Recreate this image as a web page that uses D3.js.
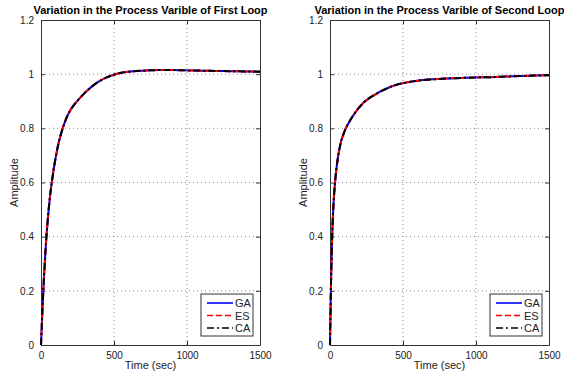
<!DOCTYPE html>
<html>
<head>
<meta charset="utf-8">
<script src="https://cdn.jsdelivr.net/npm/d3@7"></script>
<style>
  body { margin: 0; background: #fff; }
  svg { display: block; font-family: "Liberation Sans", Arial, sans-serif; }
</style>
</head>
<body>
<svg id="chart" width="564" height="376"></svg>
<script>
// Closed-loop step responses of the two loops, for the three tuning methods
const timeLoop1 = [0, 10, 20, 30, 40, 50, 60, 75, 90, 105, 120, 140, 160, 180, 200, 225, 250, 275, 300, 350, 400, 450, 500, 550, 600, 700, 800, 900, 1000, 1100, 1200, 1300, 1400, 1500];
const gaLoop1   = [0, 0.13, 0.245, 0.34, 0.42, 0.485, 0.54, 0.605, 0.66, 0.705, 0.745, 0.785, 0.818, 0.845, 0.866, 0.886, 0.902, 0.917, 0.931, 0.955, 0.974, 0.988, 0.998, 1.005, 1.009, 1.013, 1.015, 1.015, 1.014, 1.013, 1.012, 1.011, 1.01, 1.009];
const esLoop1   = [0, 0.135, 0.25, 0.343, 0.422, 0.487, 0.541, 0.606, 0.66, 0.705, 0.745, 0.785, 0.818, 0.845, 0.866, 0.886, 0.902, 0.917, 0.931, 0.955, 0.974, 0.988, 0.998, 1.005, 1.009, 1.013, 1.015, 1.015, 1.014, 1.013, 1.012, 1.011, 1.01, 1.009];
const caLoop1   = [0, 0.13, 0.245, 0.34, 0.42, 0.485, 0.54, 0.605, 0.66, 0.705, 0.745, 0.785, 0.818, 0.845, 0.866, 0.886, 0.902, 0.917, 0.931, 0.955, 0.974, 0.988, 0.998, 1.005, 1.009, 1.013, 1.015, 1.015, 1.014, 1.013, 1.012, 1.011, 1.01, 1.009];

const timeLoop2 = [0, 3, 6, 10, 14, 18, 24, 30, 36, 45, 55, 65, 75, 88, 100, 125, 150, 175, 200, 230, 260, 300, 350, 400, 450, 500, 600, 700, 800, 900, 1000, 1100, 1200, 1300, 1400, 1500];
const gaLoop2   = [0, 0.1, 0.2, 0.3, 0.38, 0.45, 0.52, 0.57, 0.61, 0.655, 0.695, 0.725, 0.75, 0.772, 0.79, 0.817, 0.84, 0.86, 0.877, 0.895, 0.908, 0.922, 0.937, 0.95, 0.96, 0.967, 0.976, 0.981, 0.984, 0.986, 0.988, 0.989, 0.991, 0.993, 0.995, 0.996];
const esLoop2   = [0, 0.11, 0.21, 0.31, 0.385, 0.452, 0.521, 0.57, 0.61, 0.655, 0.695, 0.725, 0.75, 0.772, 0.79, 0.817, 0.84, 0.86, 0.877, 0.895, 0.908, 0.922, 0.937, 0.95, 0.96, 0.967, 0.976, 0.981, 0.984, 0.986, 0.988, 0.989, 0.991, 0.993, 0.995, 0.996];
const caLoop2   = [0, 0.1, 0.2, 0.3, 0.38, 0.45, 0.52, 0.57, 0.61, 0.655, 0.695, 0.725, 0.75, 0.772, 0.79, 0.817, 0.84, 0.86, 0.877, 0.895, 0.908, 0.922, 0.937, 0.95, 0.96, 0.967, 0.976, 0.981, 0.984, 0.986, 0.988, 0.989, 0.991, 0.993, 0.995, 0.996];

const xTicks = [0, 500, 1000, 1500];
const yTicks = [0, 0.2, 0.4, 0.6, 0.8, 1, 1.2];
const methodNames = ["GA", "ES", "CA"];
const methodColors = ["#0000ff", "#ff0000", "#000000"];
const methodDashes = [null, "6,3", "7,3,2,3"];

const titles = [
  "Variation in the Process Varible of First Loop",
  "Variation in the Process Varible of Second Loop"
];

const svg = d3.select("#chart");

function drawPanel(left, times, series, title) {
  const top = 20, bottom = 345, right = left + 219;
  const x = d3.scaleLinear().domain([0, 1500]).range([left, right]);
  const y = d3.scaleLinear().domain([0, 1.2]).range([bottom, top]);
  const g = svg.append("g");

  // dotted grid
  g.selectAll(".gx").data(xTicks.slice(1, -1)).enter().append("line")
    .attr("x1", d => x(d)).attr("x2", d => x(d))
    .attr("y1", top).attr("y2", bottom)
    .attr("stroke", "#888").attr("stroke-width", 1).attr("stroke-dasharray", "1,3");
  g.selectAll(".gy").data(yTicks.slice(1, -1)).enter().append("line")
    .attr("x1", left).attr("x2", right)
    .attr("y1", d => y(d)).attr("y2", d => y(d))
    .attr("stroke", "#888").attr("stroke-width", 1).attr("stroke-dasharray", "1,3");

  // axes with inward ticks
  const xAxis = d3.axisBottom(x).tickValues(xTicks).tickSizeInner(-4).tickSizeOuter(0).tickPadding(7).tickFormat(d3.format("d"));
  const yAxis = d3.axisLeft(y).tickValues(yTicks).tickSizeInner(-4).tickSizeOuter(0).tickPadding(7).tickFormat(d => d3.format("")(d));
  const xTop = d3.axisTop(x).tickValues(xTicks).tickSizeInner(-4).tickSizeOuter(0).tickFormat("");
  const yRight = d3.axisRight(y).tickValues(yTicks).tickSizeInner(-4).tickSizeOuter(0).tickFormat("");

  [[xAxis, `translate(0,${bottom})`], [yAxis, `translate(${left},0)`],
   [xTop, `translate(0,${top})`], [yRight, `translate(${right},0)`]].forEach(([ax, tr]) => {
    const a = g.append("g").attr("transform", tr).call(ax);
    a.selectAll("path, line").attr("stroke", "#333").attr("stroke-width", 1);
    a.selectAll("text").attr("fill", "#222").style("font-size", "10px");
  });

  // response curves
  const line = d3.line().x((d, i) => x(times[i])).y(d => y(d)).curve(d3.curveMonotoneX);
  series.forEach((vals, k) => {
    g.append("path").datum(vals)
      .attr("d", line)
      .attr("fill", "none")
      .attr("stroke", methodColors[k])
      .attr("stroke-width", 2)
      .attr("stroke-dasharray", methodDashes[k]);
  });

  // labels
  g.append("text").attr("x", (left + right) / 2).attr("y", 14)
    .attr("text-anchor", "middle").style("font-size", "11px").style("font-weight", "bold")
    .attr("fill", "#000").text(title);
  g.append("text").attr("x", (left + right) / 2).attr("y", 369)
    .attr("text-anchor", "middle").style("font-size", "11px").attr("fill", "#222").text("Time (sec)");
  g.append("text").attr("transform", `translate(${left - 23},${(top + bottom) / 2}) rotate(-90)`)
    .attr("text-anchor", "middle").style("font-size", "11px").attr("fill", "#222").text("Amplitude");

  // legend
  const lx = right - 59, ly = 294;
  const lg = g.append("g");
  lg.append("rect").attr("x", lx).attr("y", ly).attr("width", 52).attr("height", 42)
    .attr("fill", "#fff").attr("stroke", "#333").attr("stroke-width", 1);
  methodNames.forEach((name, k) => {
    const yy = ly + 9 + k * 12.5;
    lg.append("line").attr("x1", lx + 6).attr("x2", lx + 32).attr("y1", yy).attr("y2", yy)
      .attr("stroke", methodColors[k]).attr("stroke-width", 1.6)
      .attr("stroke-dasharray", methodDashes[k]);
    lg.append("text").attr("x", lx + 34).attr("y", yy + 4).style("font-size", "11px")
      .attr("fill", "#222").text(name);
  });
}

drawPanel(41, timeLoop1, [gaLoop1, esLoop1, caLoop1], titles[0]);
drawPanel(330, timeLoop2, [gaLoop2, esLoop2, caLoop2], titles[1]);
</script>
</body>
</html>
